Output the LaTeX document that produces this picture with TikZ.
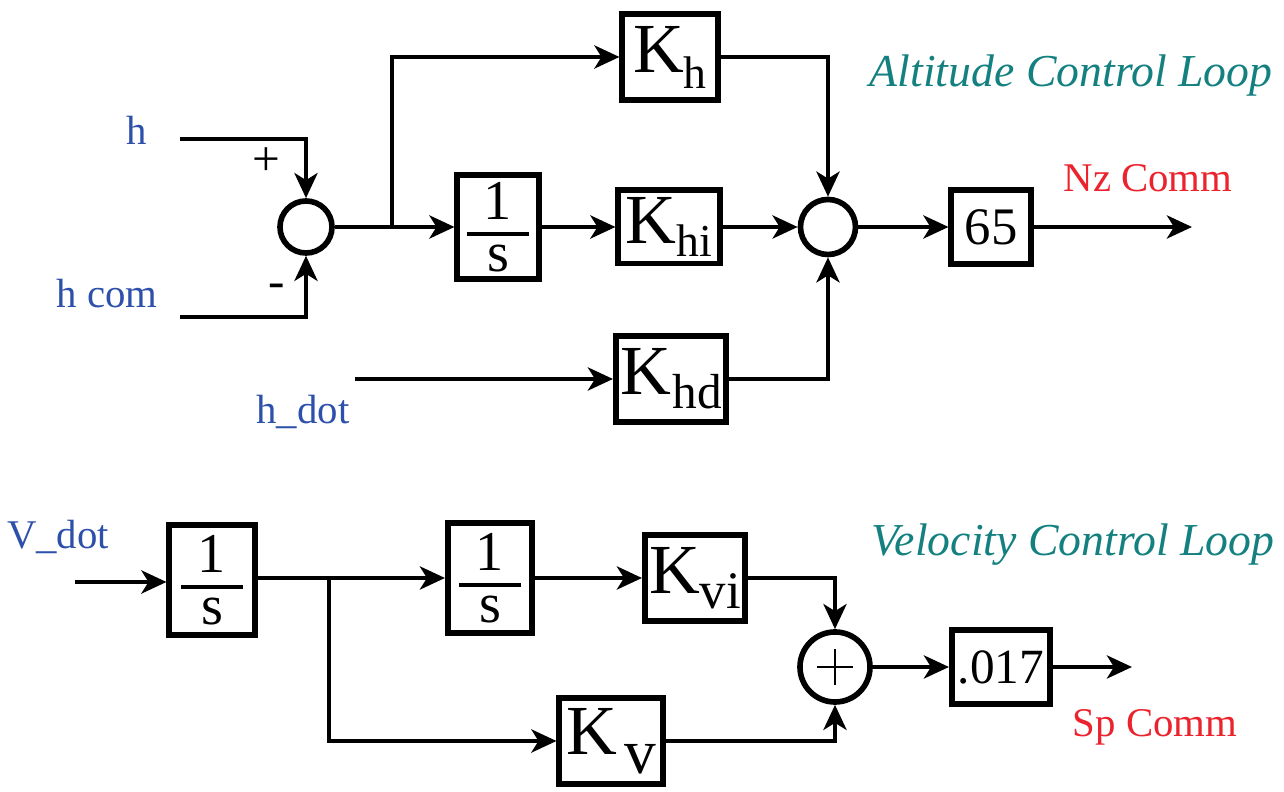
\documentclass[tikz,border=0pt]{standalone}
\usepackage{fontspec}
\setmainfont{Liberation Serif}
\usetikzlibrary{arrows.meta,calc}
\definecolor{sigblue}{RGB}{45,80,170}
\definecolor{cmdred}{RGB}{235,35,45}
\definecolor{loopteal}{RGB}{20,128,128}
\tikzset{
  >={Stealth[length=2.5mm,width=2.3mm,inset=0.7mm]},
}
% gain block text: K with a lowered subscript {sub}{size}{drop}{kern}
\newcommand{\gain}[4]{K\kern#4\raisebox{-#3}{\fontsize{#2}{#2}\selectfont #1}}
% 1/s block text
\newcommand{\integ}{\vbox{\hbox to 0.62cm{\hfil 1\hfil}\kern3.4pt\hrule height 1.3pt\kern2.4pt\hbox to 0.62cm{\hfil s\hfil}}}

\begin{document}
\begin{tikzpicture}[
  x=0.01cm,y=-0.01cm,
  line width=1.35pt,
  blk/.style={draw, line width=1.7pt, inner sep=0pt, fill=white, font=\fontsize{20}{24}\selectfont},
  intblk/.style={blk, font=\fontsize{16}{18}\selectfont},
  numblk/.style={blk, font=\fontsize{15}{18}\selectfont},
  sumjn/.style={draw, circle, line width=1.6pt, inner sep=0pt, fill=white},
  sig/.style={anchor=base, font=\fontsize{11.6}{14}\selectfont, text=sigblue},
  cmd/.style={anchor=base, font=\fontsize{11.6}{14}\selectfont, text=cmdred},
  looptitle/.style={anchor=base, font=\fontsize{13}{16}\selectfont\itshape, text=loopteal},
  sgn/.style={font=\fontsize{14}{14}\selectfont}
]
\useasboundingbox (0,0) rectangle (1284,792);

% altitude control loop
\node[sumjn, minimum size=0.52cm] (hsum) at (306,227) {};
\node[intblk, minimum width=0.81cm, minimum height=1.03cm] (hint) at (498,227) {\integ};
\node[blk, minimum width=0.95cm, minimum height=0.85cm] (kh) at (670,57) {\gain{h}{13}{0.16cm}{0pt}};
\node[blk, minimum width=1.01cm, minimum height=0.73cm] (khi) at (669,227) {\gain{hi}{13}{0.13cm}{0pt}};
\node[blk, minimum width=1.10cm, minimum height=0.85cm] (khd) at (671,379) {\gain{hd}{14}{0.14cm}{0.5pt}};
\node[sumjn, minimum size=0.55cm] (ksum) at (828,227) {};
\node[numblk, minimum width=0.79cm, minimum height=0.74cm] (g65) at (991,227) {65};

\node[sig] (lh) at (137,145) {h};
\node[sig] (lhcom) at (107,308) {h com};
\node[sig] (lhdot) at (303,424) {h\_dot};
\node[sgn] (plus1) at (266,162) {+};
\node[sgn] (minus1) at (277,291) {-};
\node[cmd] (lnz) at (1148,192) {Nz Comm};
\node[looptitle] (ttop) at (1071,87) {Altitude Control Loop};

\coordinate (hin) at (180,139);
\coordinate (hcomin) at (180,317);
\coordinate (hdotin) at (355,379);
\coordinate (split1) at (392,227);
\coordinate (nzout) at (1192,227);

\draw[->] (hin) -| (hsum.north);
\draw[->] (hcomin) -| (hsum.south);
\draw (hsum.east) -- (split1);
\draw[->] (split1) -- (hint.west);
\draw[->] (split1) |- (kh.west);
\draw[->] (hint.east) -- (khi.west);
\draw[->] (khi.east) -- (ksum.west);
\draw[->] (kh.east) -| (ksum.north);
\draw[->] (hdotin) -- (khd.west);
\draw[->] (khd.east) -| (ksum.south);
\draw[->] (ksum.east) -- (g65.west);
\draw[->] (g65.east) -- (nzout);

% velocity control loop
\node[intblk, minimum width=0.85cm, minimum height=1.09cm] (vint1) at (212,580) {\integ};
\node[intblk, minimum width=0.84cm, minimum height=1.09cm] (vint2) at (490,578) {\integ};
\node[blk, minimum width=1.00cm, minimum height=0.85cm] (kvi) at (695,578) {\gain{vi}{15}{0.15cm}{0pt}};
\node[blk, minimum width=1.03cm, minimum height=0.85cm] (kv) at (611,741) {\gain{v}{18}{0.19cm}{2pt}};
\node[sumjn, minimum size=0.70cm] (vsum) at (835,667) {};
\node[numblk, minimum width=0.98cm, minimum height=0.74cm, font=\fontsize{14}{18}\selectfont] (g017) at (1001,667) {.017};
\draw[line width=0.5pt] ([xshift=-0.18cm]vsum.center) -- ([xshift=0.18cm]vsum.center);
\draw[line width=0.5pt] ([yshift=-0.18cm]vsum.center) -- ([yshift=0.18cm]vsum.center);

\node[sig] (lvdot) at (58,549) {V\_dot};
\node[cmd] (lsp) at (1155,737) {Sp Comm};
\node[looptitle] (tbot) at (1073,556) {Velocity Control Loop};

\coordinate (vdotin) at (75,582);
\coordinate (split2) at (329,578);
\coordinate (spout) at (1132,667);

\draw[->] (vdotin) -- (vint1.west |- vdotin);
\draw (vint1.east |- split2) -- (split2);
\draw[->] (split2) -- (vint2.west);
\draw[->] (split2) |- (kv.west);
\draw[->] (vint2.east) -- (kvi.west);
\draw[->] (kvi.east) -| (vsum.north);
\draw[->] (kv.east) -| (vsum.south);
\draw[->] (vsum.east) -- (g017.west);
\draw[->] (g017.east) -- (spout);
\end{tikzpicture}
\end{document}
